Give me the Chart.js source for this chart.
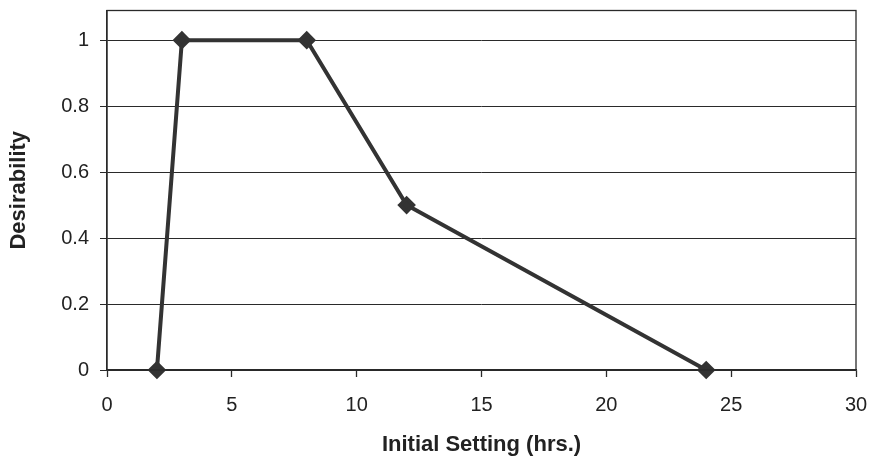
<!DOCTYPE html>
<html>
<head>
<meta charset="utf-8">
<script src="https://cdn.jsdelivr.net/npm/chart.js@4"></script>
<style>
  html, body { margin: 0; padding: 0; background: #fff; }
  #wrap { width: 875px; height: 464px; position: relative; }
</style>
</head>
<body>
<div id="wrap"><canvas id="c" width="875" height="464"></canvas></div>
<script>
const xValues = [2, 3, 8, 12, 24];
const yValues = [0, 1, 1, 0.5, 0];
const xTicks = [0, 5, 10, 15, 20, 25, 30];
const yTicks = [0, 0.2, 0.4, 0.6, 0.8, 1];
const yTickLabels = ['0', '0.2', '0.4', '0.6', '0.8', '1'];
const xTitle = 'Initial Setting (hrs.)';
const yTitle = 'Desirability';

const points = xValues.map((x, i) => ({ x: x, y: yValues[i] }));

const boxPlugin = {
  id: 'box',
  afterDraw(chart) {
    const { ctx, chartArea: a } = chart;
    ctx.save();
    ctx.strokeStyle = '#2a2a2a';
    ctx.lineWidth = 1.3;
    ctx.strokeRect(a.left, a.top, a.right - a.left, a.bottom - a.top);
    ctx.restore();
  }
};

Chart.defaults.font.family = '"Liberation Sans", Arial, sans-serif';
Chart.defaults.color = '#222';

new Chart(document.getElementById('c'), {
  type: 'scatter',
  data: {
    datasets: [{
      data: points,
      showLine: true,
      borderColor: '#333333',
      backgroundColor: '#333333',
      borderWidth: 4,
      pointStyle: 'rectRot',
      pointRadius: 6.5,
      pointHoverRadius: 6.5,
      tension: 0,
      clip: false
    }]
  },
  options: {
    responsive: false,
    animation: false,
    events: [],
    layout: { padding: { top: 7, right: 19, bottom: 0, left: 0 } },
    plugins: { legend: { display: false }, tooltip: { enabled: false } },
    scales: {
      x: {
        type: 'linear',
        min: xTicks[0],
        max: xTicks[xTicks.length - 1],
        afterBuildTicks(axis) { axis.ticks = xTicks.map(v => ({ value: v })); },
        afterFit(axis) { axis.height = 94; axis.paddingLeft = 0; axis.paddingRight = 0; },
        grid: { drawOnChartArea: false, tickLength: 7, tickColor: '#2a2a2a', tickWidth: 1.3 },
        border: { color: '#2a2a2a', width: 1.3 },
        ticks: { font: { size: 20 }, color: '#222', padding: 16, maxRotation: 0 },
        title: { display: true, text: xTitle, font: { size: 22, weight: 'bold' }, color: '#222', padding: { top: 0, bottom: 6 } }
      },
      y: {
        type: 'linear',
        min: 0,
        max: 1.09,
        afterBuildTicks(axis) { axis.ticks = yTicks.map(v => ({ value: v })); },
        afterFit(axis) { axis.width = 107; axis.paddingTop = 0; axis.paddingBottom = 0; },
        grid: { color: '#2a2a2a', lineWidth: 1, tickLength: 7, tickColor: '#2a2a2a' },
        border: { color: '#2a2a2a', width: 1.3 },
        ticks: {
          font: { size: 20 }, color: '#222', padding: 11,
          callback(value, index) { return yTickLabels[index]; }
        },
        title: { display: true, text: yTitle, font: { size: 22, weight: 'bold' }, color: '#222', padding: { top: 6, bottom: 0 } }
      }
    }
  },
  plugins: [boxPlugin]
});
</script>
</body>
</html>
